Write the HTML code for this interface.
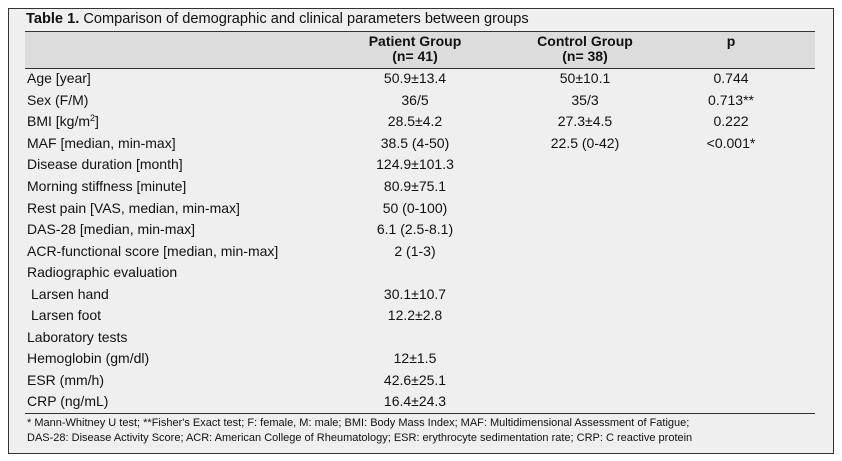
<!DOCTYPE html>
<html><head><style>
body{margin:0;width:842px;height:461px;background:#fff;font-family:"Liberation Sans",sans-serif;color:#111;position:relative;overflow:hidden}
#box{position:absolute;left:8px;top:8px;width:824px;height:444px;border:1px solid #333;background:#efefef}
.t{position:absolute;font-size:14px;white-space:nowrap;line-height:15px}
.c{transform:translateX(-50%);text-align:center}
.hl{position:absolute;left:25px;width:790px;height:1px;background:#333}
.f{position:absolute;left:27px;font-size:11px;white-space:nowrap}
sup{font-size:9px;line-height:0;vertical-align:5px}
</style></head><body>
<div id="box"></div>
<div class="t" style="left:26px;top:12px;font-size:14.6px"><b>Table 1.</b> Comparison of demographic and clinical parameters between groups</div>
<div class="hl" style="top:31px"></div>
<div style="position:absolute;left:25px;top:32px;width:790px;height:36px;background:#dcdcdc"></div>
<div class="hl" style="top:68px"></div>
<div class="t c" style="left:415px;top:34px;font-weight:bold">Patient Group<br>(n= 41)</div>
<div class="t c" style="left:585px;top:34px;font-weight:bold">Control Group<br>(n= 38)</div>
<div class="t c" style="left:731px;top:34px;font-weight:bold">p</div>
<div class="t" style="left:27px;top:71px">Age [year]</div><div class="t c" style="left:415px;top:71px">50.9±13.4</div><div class="t c" style="left:585px;top:71px">50±10.1</div><div class="t c" style="left:731px;top:71px">0.744</div>
<div class="t" style="left:27px;top:93px">Sex (F/M)</div><div class="t c" style="left:415px;top:93px">36/5</div><div class="t c" style="left:585px;top:93px">35/3</div><div class="t c" style="left:731px;top:93px">0.713**</div>
<div class="t" style="left:27px;top:114px">BMI [kg/m<sup>2</sup>]</div><div class="t c" style="left:415px;top:114px">28.5±4.2</div><div class="t c" style="left:585px;top:114px">27.3±4.5</div><div class="t c" style="left:731px;top:114px">0.222</div>
<div class="t" style="left:27px;top:136px">MAF [median, min-max]</div><div class="t c" style="left:415px;top:136px">38.5 (4-50)</div><div class="t c" style="left:585px;top:136px">22.5 (0-42)</div><div class="t c" style="left:731px;top:136px">&lt;0.001*</div>
<div class="t" style="left:27px;top:157px">Disease duration [month]</div><div class="t c" style="left:415px;top:157px">124.9±101.3</div>
<div class="t" style="left:27px;top:179px">Morning stiffness [minute]</div><div class="t c" style="left:415px;top:179px">80.9±75.1</div>
<div class="t" style="left:27px;top:201px">Rest pain [VAS, median, min-max]</div><div class="t c" style="left:415px;top:201px">50 (0-100)</div>
<div class="t" style="left:27px;top:222px">DAS-28 [median, min-max]</div><div class="t c" style="left:415px;top:222px">6.1 (2.5-8.1)</div>
<div class="t" style="left:27px;top:244px">ACR-functional score [median, min-max]</div><div class="t c" style="left:415px;top:244px">2 (1-3)</div>
<div class="t" style="left:27px;top:265px">Radiographic evaluation</div>
<div class="t" style="left:31px;top:287px">Larsen hand</div><div class="t c" style="left:415px;top:287px">30.1±10.7</div>
<div class="t" style="left:31px;top:308px">Larsen foot</div><div class="t c" style="left:415px;top:308px">12.2±2.8</div>
<div class="t" style="left:27px;top:330px">Laboratory tests</div>
<div class="t" style="left:27px;top:351px">Hemoglobin (gm/dl)</div><div class="t c" style="left:415px;top:351px">12±1.5</div>
<div class="t" style="left:27px;top:373px">ESR (mm/h)</div><div class="t c" style="left:415px;top:373px">42.6±25.1</div>
<div class="t" style="left:27px;top:394px">CRP (ng/mL)</div><div class="t c" style="left:415px;top:394px">16.4±24.3</div>
<div class="hl" style="top:413px"></div>
<div class="f" style="top:417px">* Mann-Whitney U test; **Fisher's Exact test; F: female, M: male; BMI: Body Mass Index; MAF: Multidimensional Assessment of Fatigue;</div>
<div class="f" style="top:432px">DAS-28: Disease Activity Score; ACR: American College of Rheumatology; ESR: erythrocyte sedimentation rate; CRP: C reactive protein</div>
</body></html>
